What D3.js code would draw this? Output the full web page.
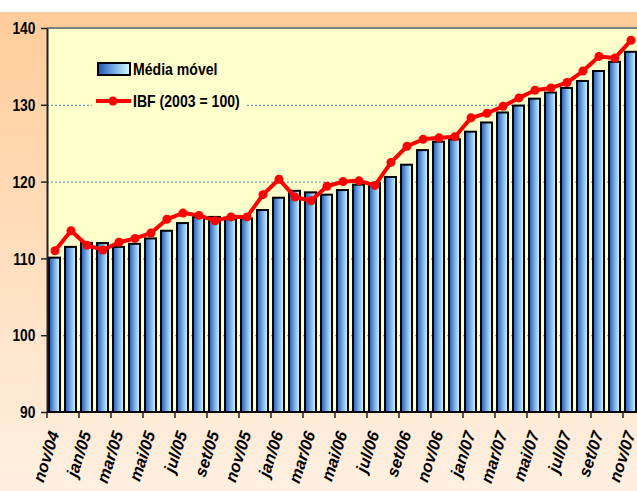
<!DOCTYPE html>
<html>
<head>
<meta charset="utf-8">
<script src="https://cdn.jsdelivr.net/npm/d3@7"></script>
<style>
  body { margin: 0; background: #fff; }
  svg { display: block; font-family: 'Liberation Sans', Arial, sans-serif; font-weight: bold; }
</style>
</head>
<body>
<script>
var months = ['nov/04', 'dez/04', 'jan/05', 'fev/05', 'mar/05', 'abr/05', 'mai/05', 'jun/05',
  'jul/05', 'ago/05', 'set/05', 'out/05', 'nov/05', 'dez/05', 'jan/06', 'fev/06', 'mar/06',
  'abr/06', 'mai/06', 'jun/06', 'jul/06', 'ago/06', 'set/06', 'out/06', 'nov/06', 'dez/06',
  'jan/07', 'fev/07', 'mar/07', 'abr/07', 'mai/07', 'jun/07', 'jul/07', 'ago/07', 'set/07',
  'out/07', 'nov/07'];
var mediaMovel = [110.1, 111.5, 112.0, 112.0, 111.5, 111.9, 112.6, 113.6, 114.6, 115.4, 115.4,
  115.1, 115.2, 116.3, 117.9, 118.8, 118.6, 118.3, 118.9, 119.6, 119.8, 120.6, 122.2, 124.1,
  125.2, 125.5, 126.5, 127.7, 129.0, 129.9, 130.8, 131.6, 132.2, 133.1, 134.4, 135.6, 136.9];
var ibf = [111.0, 113.6, 111.7, 111.1, 112.1, 112.6, 113.3, 115.1, 115.9, 115.6, 114.9, 115.4,
  115.4, 118.3, 120.3, 118.0, 117.5, 119.4, 120.0, 120.1, 119.5, 122.5, 124.6, 125.5, 125.7,
  125.85, 128.3, 128.9, 129.8, 130.9, 131.9, 132.2, 132.9, 134.4, 136.3, 136.1, 138.4];
var yTicks = [90, 100, 110, 120, 130, 140];
var gridTicks = [100, 110, 120, 130];
var seriesNames = ['Média móvel', 'IBF (2003 = 100)'];

(function() {
  var w = 637;
  var h = 491;
  var left = 47, top = 28, bottom = 412;
  var step = 16;

  var svg = d3.select('body').append('svg')
    .attr('width', w)
    .attr('height', h);

  var defs = svg.append('defs');

  var bg = defs.append('linearGradient').attr('id', 'bg')
    .attr('x1', 0).attr('y1', 0).attr('x2', 0).attr('y2', 1);
  bg.append('stop').attr('offset', '0%').attr('stop-color', '#ffcc99');
  bg.append('stop').attr('offset', '100%').attr('stop-color', '#fff0e2');

  var barGrad = defs.append('linearGradient').attr('id', 'barGrad')
    .attr('x1', 0).attr('y1', 0).attr('x2', 1).attr('y2', 0);
  barGrad.append('stop').attr('offset', '0%').attr('stop-color', '#1a56b4');
  barGrad.append('stop').attr('offset', '45%').attr('stop-color', '#6fa4e0');
  barGrad.append('stop').attr('offset', '100%').attr('stop-color', '#d2ffff');

  // background
  svg.append('rect').attr('width', w).attr('height', h).attr('fill', '#fff');
  svg.append('rect').attr('y', 12).attr('width', w).attr('height', h - 12).attr('fill', 'url(#bg)');

  var x = d3.scaleBand()
    .domain(months)
    .range([left, left + months.length * step]);

  var y = d3.scaleLinear()
    .domain([90, 140])
    .range([bottom, top]);

  // plot area
  svg.append('rect')
    .attr('x', left).attr('y', top)
    .attr('width', w - left).attr('height', bottom - top)
    .attr('fill', '#ffffcc');

  // gridlines
  svg.append('g')
    .selectAll('line')
    .data(gridTicks)
    .enter()
    .append('line')
    .attr('x1', left).attr('x2', w)
    .attr('y1', d => y(d) + 0.5).attr('y2', d => y(d) + 0.5)
    .attr('stroke', '#3f86c8')
    .attr('stroke-width', 1)
    .attr('stroke-dasharray', '2,2');

  // legend background (hides the grid line behind the legend)
  svg.append('rect')
    .attr('x', 92).attr('y', 50).attr('width', 154).attr('height', 66)
    .attr('fill', '#ffffcc');

  // bars
  svg.append('g')
    .selectAll('rect')
    .data(mediaMovel)
    .enter()
    .append('rect')
    .attr('x', (d, i) => x(months[i]) + 2)
    .attr('y', d => y(d))
    .attr('width', x.bandwidth() - 5)
    .attr('height', d => bottom - y(d))
    .attr('fill', 'url(#barGrad)')
    .attr('stroke', '#000')
    .attr('stroke-width', 2);

  // top border
  svg.append('line')
    .attr('x1', left).attr('x2', w)
    .attr('y1', top).attr('y2', top)
    .attr('stroke', '#808080').attr('stroke-width', 2);

  // y axis
  var yAxis = svg.append('g')
    .attr('transform', 'translate(' + left + ',0)')
    .call(d3.axisLeft(y).tickValues(yTicks).tickSize(6).tickSizeOuter(0).tickFormat(d3.format('d')));
  yAxis.select('.domain').attr('stroke', '#222').attr('stroke-width', 2);
  yAxis.selectAll('.tick line').attr('stroke', '#222').attr('stroke-width', 1.5);
  yAxis.selectAll('.tick text')
    .attr('x', -13.5)
    .attr('dy', '0.36em')
    .attr('transform', 'scale(0.86,1)')
    .attr('font-size', 16)
    .attr('font-family', "'Liberation Sans', Arial, sans-serif")
    .attr('font-weight', 'bold')
    .attr('fill', '#000');

  // x axis
  svg.append('line')
    .attr('x1', left).attr('x2', w)
    .attr('y1', bottom).attr('y2', bottom)
    .attr('stroke', '#000').attr('stroke-width', 2);

  var labelled = months.filter((m, i) => i % 2 === 0);

  svg.append('g')
    .selectAll('line')
    .data(labelled)
    .enter()
    .append('line')
    .attr('x1', d => x(d)).attr('x2', d => x(d))
    .attr('y1', bottom).attr('y2', bottom + 6)
    .attr('stroke', '#222').attr('stroke-width', 1.5);

  svg.append('g')
    .selectAll('text')
    .data(labelled)
    .enter()
    .append('text')
    .attr('transform', d => 'translate(' + (x(d) + x.bandwidth() / 2 + 3) + ',' + 433 + ') rotate(-72)')
    .attr('text-anchor', 'end')
    .attr('dy', '0.1em')
    .attr('font-size', 16.5)
    .attr('font-style', 'italic')
    .text(d => d);

  // line
  var line = d3.line()
    .x((d, i) => x(months[i]) + x.bandwidth() / 2)
    .y(d => y(d));

  svg.append('path')
    .datum(ibf)
    .attr('d', line)
    .attr('fill', 'none')
    .attr('stroke', '#ff0000')
    .attr('stroke-width', 4)
    .attr('stroke-linejoin', 'round');

  svg.append('g')
    .selectAll('circle')
    .data(ibf)
    .enter()
    .append('circle')
    .attr('cx', (d, i) => x(months[i]) + x.bandwidth() / 2)
    .attr('cy', d => y(d))
    .attr('r', 4.5)
    .attr('fill', '#ff0000');

  // legend
  var legend = svg.append('g');
  legend.append('rect')
    .attr('x', 98).attr('y', 63).attr('width', 32).attr('height', 12)
    .attr('fill', 'url(#barGrad)')
    .attr('stroke', '#000').attr('stroke-width', 2);
  legend.append('line')
    .attr('x1', 96).attr('x2', 131)
    .attr('y1', 101).attr('y2', 101)
    .attr('stroke', '#ff0000').attr('stroke-width', 4);
  legend.append('circle')
    .attr('cx', 113).attr('cy', 101).attr('r', 4.5)
    .attr('fill', '#ff0000');
  legend.selectAll('text')
    .data(seriesNames)
    .enter()
    .append('text')
    .attr('transform', (d, i) => 'translate(133,' + (75 + i * 32) + ') scale(0.88,1)')
    .attr('font-size', 16)
    .text(d => d);
})();
</script>
</body>
</html>
